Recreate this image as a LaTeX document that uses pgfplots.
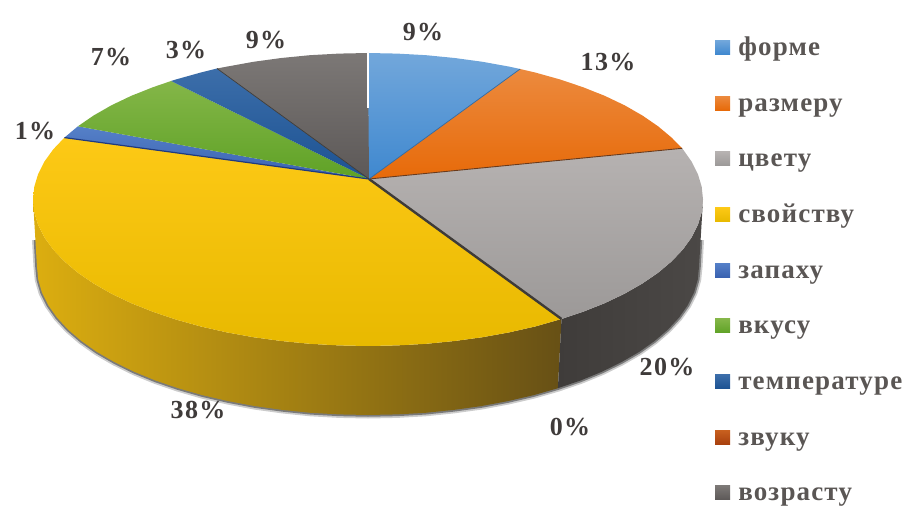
\documentclass[border=0pt]{standalone}
\usepackage{fontspec}
\setmainfont{Liberation Serif}
\usepackage{pgfplots}
\pgfplotsset{compat=1.18}
\newfontfamily\legfont[LetterSpace=4.3]{Liberation Serif}
\newfontfamily\lblfont[LetterSpace=5]{Liberation Serif}
\definecolor{lblc}{HTML}{3F3B3A}
\definecolor{legc}{HTML}{5A5654}
\definecolor{walla}{HTML}{DCAE10}
\definecolor{wallb}{HTML}{987818}
\definecolor{wallc}{HTML}{675015}
\definecolor{walld}{HTML}{3F3C3A}
\definecolor{walle}{HTML}{4B4846}
\definecolor{formt}{HTML}{72A7DB}
\definecolor{formb}{HTML}{3F88CF}
\definecolor{sizet}{HTML}{EC8A3E}
\definecolor{sizeb}{HTML}{E76A09}
\definecolor{colt}{HTML}{B6B2B1}
\definecolor{colb}{HTML}{9C9998}
\definecolor{propt}{HTML}{FDC916}
\definecolor{propb}{HTML}{E8B900}
\definecolor{smelt}{HTML}{5580C8}
\definecolor{smelb}{HTML}{3A62B0}
\definecolor{tastt}{HTML}{84B648}
\definecolor{tastb}{HTML}{5FA226}
\definecolor{tempt}{HTML}{3C6EAA}
\definecolor{tempb}{HTML}{1C5292}
\definecolor{sndt}{HTML}{C8601F}
\definecolor{sndb}{HTML}{A8400E}
\definecolor{aget}{HTML}{7C7876}
\definecolor{ageb}{HTML}{5C5857}
\definecolor{edgedk}{HTML}{3E3B38}
\definecolor{edgebr}{HTML}{6B3A1A}
\definecolor{edgenv}{HTML}{1F3A80}
\definecolor{edgebl}{HTML}{2C6AA8}

% bottom rim of the pie, pixels of the picture
\pgfplotstableread{
x y
35.5 240
37 267
38.3 279.9
42 292.7
48.3 305.3
57 317.6
68 329.5
81.4 341
96.8 351.9
114.5 362.1
134 371.7
155.2 380.4
178.1 388.2
202.5 395.2
228.1 401.1
254.8 406.1
282.3 409.9
310.5 412.8
339.1 414.4
368 415
396.9 414.4
425.5 412.8
453.7 409.9
481.2 406.1
507.9 401.1
533.5 395.2
557.9 388.2
580.8 380.4
602 371.7
621.5 362.1
639.2 351.9
654.6 341
668 329.5
679 317.6
687.7 305.3
694 292.7
697.7 279.9
699 267
700.5 240
}\rimtable

\begin{document}
\begin{tikzpicture}
\path[use as bounding box] (0,0) rectangle (915pt,516pt);
\begin{axis}[
    at={(0,0)}, anchor=south west,
    scale only axis,
    width=915pt, height=516pt,
    xmin=0, xmax=915, ymin=0, ymax=516,
    y dir=reverse,
    hide axis,
    clip=false,
    legend style={
      at={(0.778,0.928)}, anchor=north west,
      draw=none, fill=none,
      font=\legfont\bfseries\fontsize{27}{27}\selectfont,
      text=legc,
      row sep=31.7pt,
      nodes={inner sep=0pt, text height=16pt, text depth=8pt},
    },
    legend cell align=left,
    legend image code/.code={
      \path[#1, draw=none] (0pt,-3pt) rectangle (15pt,11pt);
      \path (23pt,0pt);
    },
]
% shadow under the side wall
\addplot[forget plot, black, opacity=0.2, line width=7pt, line join=round] table {\rimtable};
\addplot[forget plot, black, opacity=0.4, line width=3.5pt, line join=round] table {\rimtable};

% side wall, yellow
\addplot[forget plot, draw=none, left color=walla, middle color=wallb, right color=wallc] coordinates {
(33,199.5)(34.3,212.3)(38.1,224.9)(44.4,237.4)(53.2,249.6)(64.4,261.4)(77.9,272.75)(93.6,283.5)(111.4,293.7)(131.1,303.1)(152.7,311.7)(175.8,319.5)(200.5,326.4)(226.4,332.3)(253.4,337.2)(281.3,341)(309.8,343.8)(338.8,345.4)(368,346)(397.2,345.4)(426.2,343.8)(454.7,341)(482.6,337.2)(509.6,332.3)(535.5,326.4)(561.5,319)
(557.9,388.2)(533.5,395.2)(507.9,401.1)(481.2,406.1)(453.7,409.9)(425.5,412.8)(396.9,414.4)(368,415)(339.1,414.4)(310.5,412.8)(282.3,409.9)(254.8,406.1)(228.1,401.1)(202.5,395.2)(178.1,388.2)(155.2,380.4)(134,371.7)(114.5,362.1)(96.8,351.9)(81.4,341)(68,329.5)(57,317.6)(48.3,305.3)(42,292.7)(38.3,279.9)(37,267)
} -- cycle;
% side wall, gray
\addplot[forget plot, draw=none, left color=walld, right color=walle] coordinates {
(561.5,319)(583.3,311.7)(604.9,303.1)(624.6,293.7)(642.4,283.5)(658.1,272.75)(671.6,261.4)(682.8,249.6)(691.6,237.4)(697.9,224.9)(701.7,212.3)(703,199.5)
(699,267)(697.7,279.9)(694,292.7)(687.7,305.3)(679,317.6)(668,329.5)(654.6,341)(639.2,351.9)(621.5,362.1)(602,371.7)(580.8,380.4)(557.9,388.2)
} -- cycle;

% top: форме
\addplot[forget plot, draw=none, top color=formt, bottom color=formb] coordinates {
(369,179)(368,53)(397.2,53.6)(426.2,55.2)(454.7,58)(482.6,61.8)(509.6,66.7)(520.1,69)
} -- cycle;
% top: размеру
\addplot[forget plot, draw=none, top color=sizet, bottom color=sizeb] coordinates {
(369,179)(520.1,69)(535.5,72.6)(560.2,79.5)(583.3,87.3)(604.9,95.9)(624.6,105.3)(642.4,115.5)(658.1,126.3)(671.6,137.6)(682.2,148.3)
} -- cycle;
% top: цвету
\addplot[forget plot, draw=none, top color=colt, bottom color=colb] coordinates {
(369,179)(682.2,148.3)(691.6,161.6)(697.9,174.1)(701.7,186.7)(703,199.5)(701.7,212.3)(697.9,224.9)(691.6,237.4)(682.8,249.6)(671.6,261.4)(658.1,272.75)(642.4,283.5)(624.6,293.7)(604.9,303.1)(583.3,311.7)(561.5,319)
} -- cycle;
% top: свойству
\addplot[forget plot, draw=none, top color=propt, bottom color=propb] coordinates {
(369,179)(561.5,319)(535.5,326.4)(509.6,332.3)(482.6,337.2)(454.7,341)(426.2,343.8)(397.2,345.4)(368,346)(338.8,345.4)(309.8,343.8)(281.3,341)(253.4,337.2)(226.4,332.3)(200.5,326.4)(175.8,319.5)(152.7,311.7)(131.1,303.1)(111.4,293.7)(93.6,283.5)(77.9,272.75)(64.4,261.4)(53.2,249.6)(44.4,237.4)(38.1,224.9)(34.3,212.3)(33,199.5)(34.3,186.7)(38.1,174.1)(44.4,161.6)(53.2,149.4)(64.4,137.6)
} -- cycle;
% top: запаху
\addplot[forget plot, draw=none, top color=smelt, bottom color=smelb] coordinates {
(369,179)(64.4,137.6)(77.9,126.3)
} -- cycle;
% top: вкусу
\addplot[forget plot, draw=none, top color=tastt, bottom color=tastb] coordinates {
(369,179)(77.9,126.3)(93.6,115.5)(111.4,105.3)(131.1,95.9)(152.7,87.3)(171.1,81)
} -- cycle;
% top: температуре
\addplot[forget plot, draw=none, top color=tempt, bottom color=tempb] coordinates {
(369,179)(171.1,81)(175.8,79.5)(200.5,72.6)(217,68.5)
} -- cycle;
% top: возрасту
\addplot[forget plot, draw=none, top color=aget, bottom color=ageb] coordinates {
(369,179)(217,68.5)(226.4,66.7)(253.4,61.8)(281.3,58)(309.8,55.2)(338.8,53.6)(368,53)
} -- cycle;

% edges between the sectors
\addplot[forget plot, color=edgedk, line width=2.4pt] coordinates {(369,179)(561.5,319)};
\addplot[forget plot, color=edgebr, line width=0.9pt] coordinates {(369,179)(682.2,148.3)};
\addplot[forget plot, color=edgenv, line width=1.2pt] coordinates {(369,179)(64.4,137.6)};
\addplot[forget plot, color=edgebl, line width=0.7pt] coordinates {(369,179)(520.1,69)};
\addplot[forget plot, color=edgedk, line width=0.7pt] coordinates {(369,179)(217,68.5)};
\addplot[forget plot, color=white, line width=1.5pt] coordinates {(368,53)(368,108)};

% percent labels
\addplot[forget plot, draw=none, point meta=explicit symbolic,
    nodes near coords={\pgfplotspointmeta\%},
    nodes near coords style={anchor=center, inner sep=0pt, text=lblc,
      font=\lblfont\bfseries\fontsize{26}{26}\selectfont},
] table[x=x, y=y, meta=v] {
x y v
423 32 9
608 62 13
667 367 20
570 427 0
198 410 38
35 131 1
111 57 7
186 50 3
266 40 9
};

\addlegendimage{top color=formt, bottom color=formb}
\addlegendentry{форме}
\addlegendimage{top color=sizet, bottom color=sizeb}
\addlegendentry{размеру}
\addlegendimage{top color=colt, bottom color=colb}
\addlegendentry{цвету}
\addlegendimage{top color=propt, bottom color=propb}
\addlegendentry{свойству}
\addlegendimage{top color=smelt, bottom color=smelb}
\addlegendentry{запаху}
\addlegendimage{top color=tastt, bottom color=tastb}
\addlegendentry{вкусу}
\addlegendimage{top color=tempt, bottom color=tempb}
\addlegendentry{температуре}
\addlegendimage{top color=sndt, bottom color=sndb}
\addlegendentry{звуку}
\addlegendimage{top color=aget, bottom color=ageb}
\addlegendentry{возрасту}
\end{axis}
\end{tikzpicture}
\end{document}
